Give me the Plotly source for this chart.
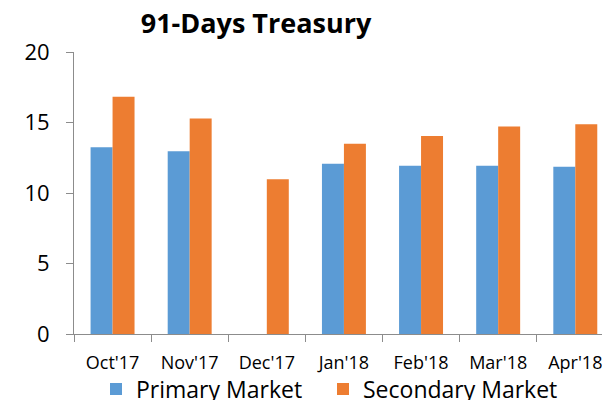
import plotly.graph_objects as go


months = ["Oct'17", "Nov'17", "Dec'17", "Jan'18", "Feb'18", "Mar'18", "Apr'18"]
primary = [13.24, 12.96, None, 12.08, 11.94, 11.94, 11.87]
secondary = [16.82, 15.28, 10.97, 13.50, 14.05, 14.71, 14.88]

BLUE = "#5B9BD5"
ORANGE = "#ED7D31"
AXIS = "#8C8C8C"
FONT = "Open Sans"

# the page has an 8px body margin, so the figure is laid out 8px up/left
fig = go.Figure()

fig.add_trace(go.Bar(
    x=months, y=primary, name="Primary Market",
    marker=dict(color=BLUE, line=dict(width=0)),
    legend="legend", showlegend=True
))
fig.add_trace(go.Bar(
    x=months, y=secondary, name="Secondary Market",
    marker=dict(color=ORANGE, line=dict(width=0)),
    legend="legend2", showlegend=True
))

legend_style = dict(
    orientation="h",
    xanchor="left", xref="container",
    y=1 - 381 / 400, yanchor="middle", yref="container",
    font=dict(family=FONT, size=23, color="black"),
    itemwidth=30,
    bgcolor="rgba(0,0,0,0)",
)

fig.update_layout(
    width=610,
    height=400,
    margin=dict(l=66, r=8, t=44, b=74, autoexpand=False),
    paper_bgcolor="white",
    plot_bgcolor="white",
    font=dict(family=FONT, color="black"),
    showlegend=True,
    barmode="group",
    bargap=0.43,
    bargroupgap=0,
    title=dict(
        text="91-Days Treasury",
        x=248 / 610, xanchor="center", xref="container",
        y=1 - 16 / 400, yanchor="middle", yref="container",
        font=dict(family=FONT, size=27, weight="bold", color="black"),
    ),
    legend=dict(x=88 / 610, **legend_style),
    legend2=dict(x=315 / 610, **legend_style),
)

fig.update_xaxes(
    range=[-0.5, 6.45],
    automargin=False,
    showline=True, linecolor=AXIS, linewidth=1,
    ticks="outside", tickson="boundaries", ticklen=7, tickcolor=AXIS,
    showgrid=False,
    tickfont=dict(family=FONT, size=18, color="black"),
    ticklabelstandoff=12,
)
fig.update_yaxes(
    range=[0, 20], dtick=5,
    automargin=False,
    showline=True, linecolor=AXIS, linewidth=1,
    ticks="outside", ticklen=7, tickcolor=AXIS,
    showgrid=False, zeroline=False,
    tickfont=dict(family=FONT, size=22, color="black"),
    ticklabelstandoff=12,
)

fig.write_html("out.html")
